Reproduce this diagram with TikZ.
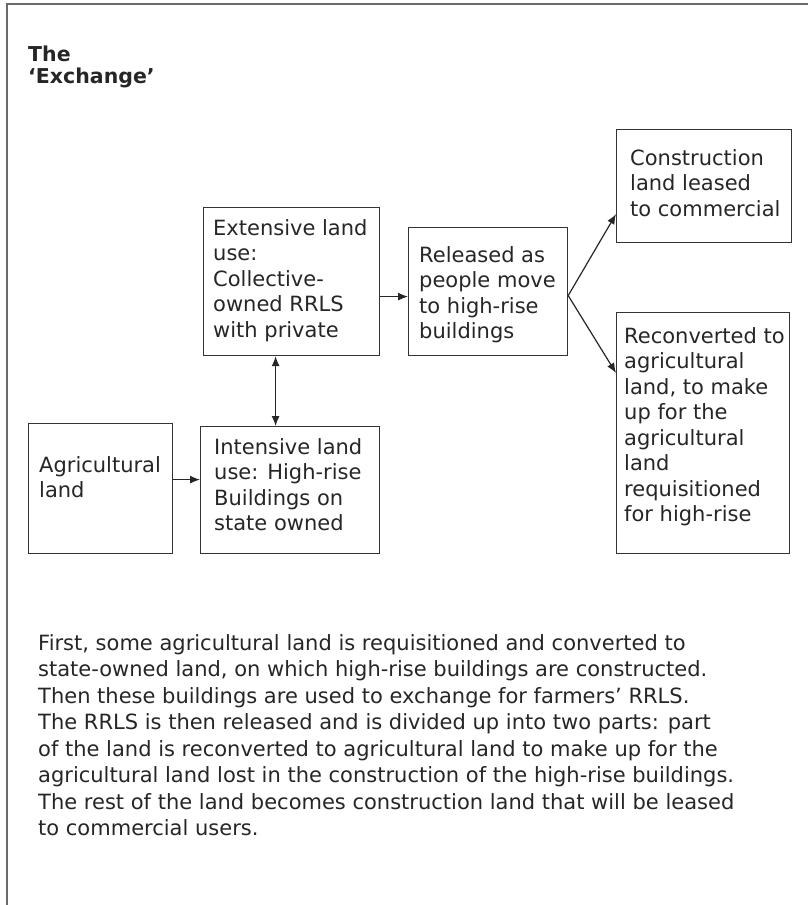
\documentclass[tikz,border=0pt]{standalone}
\usepackage{fontspec}
\setmainfont{DejaVu Sans}
\usepackage{tikz,xcolor}
\usetikzlibrary{arrows.meta, calc}

\definecolor{framegray}{HTML}{6A6A6A}
\definecolor{boxgray}{HTML}{333333}
\definecolor{inkgray}{HTML}{262626}

\newcommand{\boxfont}{\fontsize{21}{25.5}\selectfont}
\newcommand{\parafont}{\fontsize{21}{26.5}\selectfont}
\newcommand{\titlefont}{\fontsize{20.5}{22}\selectfont\bfseries}
\newcommand{\cellstack}[1]{\parbox[t]{320pt}{\raggedright #1}}

\tikzset{
  cell/.style={draw=boxgray, line width=1.2pt, anchor=north west, inner sep=0pt},
  celltext/.style={anchor=base west, inner sep=0pt, text=inkgray, font=\boxfont},
  link/.style={-{Latex[length=10pt,width=8pt]}, line width=1.2pt, draw=inkgray},
  duallink/.style={{Latex[length=10pt,width=8pt]}-{Latex[length=10pt,width=8pt]}, line width=1.2pt, draw=inkgray},
}

\begin{document}
\begin{tikzpicture}[x=1pt, y=-1pt]
\useasboundingbox (0,0) rectangle (808,905);
% Draw the open frame
\draw[framegray, line width=2pt] (7,905) -- (7,4) -- (808,4);

% Heading
\node[anchor=base west, inner sep=0pt, text=inkgray, font=\titlefont] (title) at (28,61)
  {\cellstack{The\\‘Exchange’}};

% Draw the boxes
\node[cell, minimum width=144, minimum height=130] (agri) at (28,423) {};
\node[cell, minimum width=179, minimum height=127] (inten) at (200,426) {};
\node[cell, minimum width=176, minimum height=148] (ext) at (203,207) {};
\node[cell, minimum width=159, minimum height=128] (rel) at (408,227) {};
\node[cell, minimum width=175, minimum height=113] (constr) at (616,129) {};
\node[cell, minimum width=173, minimum height=241] (recon) at (616,312) {};

% Texts in the boxes
\node[celltext] (agri-t) at (39,472) {\cellstack{Agricultural\\land}};
\node[celltext] (inten-t) at (214,454) {\cellstack{Intensive land\\use: High-rise\\Buildings on\\state owned}};
\node[celltext] (ext-t) at (213,235) {\cellstack{Extensive land\\use:\\Collective-\\owned RRLS\\with private}};
\node[celltext] (rel-t) at (419,262) {\cellstack{Released as\\people move\\to high-rise\\buildings}};
\node[celltext] (constr-t) at (630,165) {\cellstack{Construction\\land leased\\to commercial}};
\node[celltext] (recon-t) at (624,343) {\cellstack{Reconverted to\\agricultural\\land, to make\\up for the\\agricultural\\land\\requisitioned\\for high-rise}};

% Draw the arrows
\draw[link] ([yshift=9pt]agri.east) -- ([yshift=9pt]agri.east -| inten.west);
\draw[duallink] ([xshift=-16pt]ext.south) -- ([xshift=-16pt]ext.south |- inten.north);
\draw[link] ([yshift=-5pt]rel.west -| ext.east) -- ([yshift=-5pt]rel.west);
\draw[link] ([yshift=-4pt]rel.east) -- ([yshift=-28pt]constr.west);
\draw[link] ([yshift=-4pt]rel.east) -- ([yshift=-61pt]recon.north west);

% Explanation below
\node[anchor=base west, inner sep=0pt, text=inkgray, font=\parafont] (note) at (38,650)
  {\parbox[t]{760pt}{First, some agricultural land is requisitioned and converted to\\
state-owned land, on which high-rise buildings are constructed.\\
Then these buildings are used to exchange for farmers’ RRLS.\\
The RRLS is then released and is divided up into two parts: part\\
of the land is reconverted to agricultural land to make up for the\\
agricultural land lost in the construction of the high-rise buildings.\\
The rest of the land becomes construction land that will be leased\\
to commercial users.}};

\end{tikzpicture}
\end{document}
